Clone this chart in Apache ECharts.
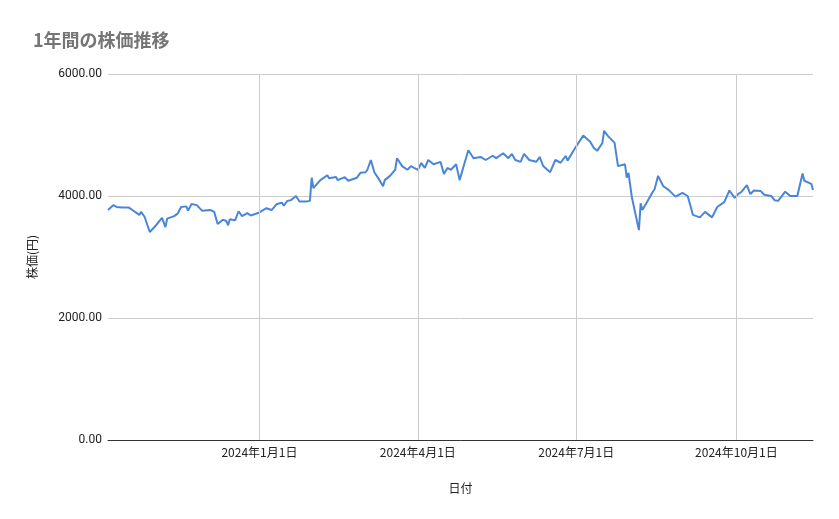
<!DOCTYPE html>
<html>
<head>
<meta charset="utf-8">
<script src="https://cdn.jsdelivr.net/npm/echarts@6/dist/echarts.min.js"></script>
<style>html,body{margin:0;padding:0;background:#fff}#chart{width:839px;height:519px}</style>
</head>
<body>
<div id="chart"></div>
<script>
// 日付と株価
var dates = ['2023-10-06','2023-10-09','2023-10-11','2023-10-14','2023-10-18','2023-10-20','2023-10-21','2023-10-24','2023-10-25','2023-10-27','2023-10-30','2023-11-02','2023-11-06','2023-11-08','2023-11-09','2023-11-13','2023-11-15','2023-11-17','2023-11-20','2023-11-21','2023-11-23','2023-11-26','2023-11-29','2023-12-04','2023-12-06','2023-12-08','2023-12-11','2023-12-13','2023-12-14','2023-12-15','2023-12-18','2023-12-20','2023-12-22','2023-12-25','2023-12-27','2024-01-01','2024-01-05','2024-01-08','2024-01-11','2024-01-14','2024-01-15','2024-01-17','2024-01-19','2024-01-22','2024-01-24','2024-01-28','2024-01-30','2024-01-31','2024-02-01','2024-02-05','2024-02-09','2024-02-10','2024-02-14','2024-02-15','2024-02-19','2024-02-21','2024-02-26','2024-02-28','2024-03-02','2024-03-03','2024-03-05','2024-03-07','2024-03-10','2024-03-12','2024-03-13','2024-03-16','2024-03-19','2024-03-20','2024-03-23','2024-03-26','2024-03-28','2024-04-01','2024-04-03','2024-04-05','2024-04-07','2024-04-10','2024-04-14','2024-04-16','2024-04-18','2024-04-20','2024-04-23','2024-04-25','2024-04-27','2024-04-30','2024-05-03','2024-05-07','2024-05-10','2024-05-14','2024-05-16','2024-05-20','2024-05-23','2024-05-25','2024-05-27','2024-05-30','2024-06-01','2024-06-04','2024-06-08','2024-06-10','2024-06-12','2024-06-16','2024-06-19','2024-06-22','2024-06-25','2024-06-26','2024-06-30','2024-07-05','2024-07-09','2024-07-11','2024-07-13','2024-07-16','2024-07-17','2024-07-19','2024-07-23','2024-07-25','2024-07-29','2024-07-30','2024-07-31','2024-08-02','2024-08-06','2024-08-07','2024-08-08','2024-08-10','2024-08-14','2024-08-15','2024-08-17','2024-08-20','2024-08-23','2024-08-27','2024-08-28','2024-08-31','2024-09-03','2024-09-05','2024-09-06','2024-09-10','2024-09-13','2024-09-17','2024-09-20','2024-09-24','2024-09-27','2024-09-30','2024-10-02','2024-10-04','2024-10-07','2024-10-09','2024-10-11','2024-10-15','2024-10-17','2024-10-21','2024-10-23','2024-10-25','2024-10-29','2024-11-01','2024-11-05','2024-11-08','2024-11-09','2024-11-13','2024-11-14'];
var prices = [3770,3850,3820,3810,3810,3770,3800,3690,3740,3660,3410,3500,3640,3490,3630,3670,3710,3820,3830,3760,3870,3850,3760,3770,3740,3540,3610,3590,3520,3620,3600,3750,3670,3720,3680,3730,3800,3770,3870,3890,3840,3920,3930,4000,3910,3910,3920,4300,4130,4260,4340,4290,4310,4260,4310,4250,4300,4380,4390,4430,4590,4390,4260,4160,4260,4330,4430,4620,4490,4430,4490,4430,4540,4460,4590,4520,4560,4360,4460,4430,4520,4260,4460,4750,4620,4640,4590,4660,4620,4700,4620,4690,4590,4560,4690,4590,4560,4640,4490,4390,4590,4545,4656,4580,4770,4990,4890,4790,4740,4870,5070,4990,4870,4490,4520,4300,4380,3970,3440,3880,3770,3870,4070,4110,4330,4160,4100,3990,4020,4050,4000,3800,3690,3650,3740,3650,3820,3900,4090,3970,4030,4070,4180,4030,4090,4080,4020,4000,3930,3920,4070,4000,4000,4370,4250,4200,4100];
var tickDates = ['2024-01-01','2024-04-01','2024-07-01','2024-10-01'];

var chart = echarts.init(document.getElementById('chart'));

function ts(s) { return new Date(s + 'T00:00:00').getTime(); }
function jpDate(s) {
    var p = s.split('-');
    return p[0] + '年' + parseInt(p[1], 10) + '月' + parseInt(p[2], 10) + '日';
}

var option = {
    animation: false,
    title: {
        text: '1年間の株価推移', left: 28, top: 26,
        textStyle: {fontFamily: 'Noto Sans CJK JP', fontSize: 18, fontWeight: 'bold', color: '#757575'}
    },
    grid: {left: 108, right: 26, top: 74, bottom: 79},
    xAxis: {
        type: 'time',
        min: ts(dates[0]),
        max: ts(dates[dates.length - 1]),
        name: '日付', nameLocation: 'middle', nameGap: 42,
        nameTextStyle: {fontFamily: 'Noto Sans CJK JP', fontSize: 12, color: '#222'},
        axisLine: {lineStyle: {color: '#333'}},
        axisTick: {show: false},
        splitLine: {show: false},
        axisLabel: {show: false}
    },
    yAxis: {
        type: 'value', min: 0, max: 6000, interval: 2000,
        name: '株価(円)', nameLocation: 'middle', nameGap: 70,
        nameTextStyle: {fontFamily: 'Noto Sans CJK JP', fontSize: 12, color: '#222'},
        axisLine: {show: false},
        axisTick: {show: false},
        splitLine: {lineStyle: {color: '#cccccc'}},
        axisLabel: {
            fontFamily: 'Roboto', fontSize: 12, color: '#222', margin: 6,
            formatter: function (v) { return v.toFixed(2); }
        }
    },
    series: [{
        type: 'line',
        data: dates.map(function (d, i) { return [ts(d), prices[i]]; }),
        showSymbol: false,
        lineStyle: {color: '#4a86d8', width: 2},
        itemStyle: {color: '#4a86d8'},
        markLine: {
            silent: true, symbol: 'none',
            lineStyle: {color: '#cccccc', type: 'solid', width: 1},
            data: tickDates.map(function (d) {
                return {
                    xAxis: ts(d),
                    label: {
                        show: true, position: 'start', distance: 6,
                        formatter: jpDate(d),
                        fontFamily: 'Noto Sans CJK JP', fontSize: 12, color: '#222'
                    }
                };
            })
        },
        z: 3
    }]
};
chart.setOption(option);
</script>
</body>
</html>
